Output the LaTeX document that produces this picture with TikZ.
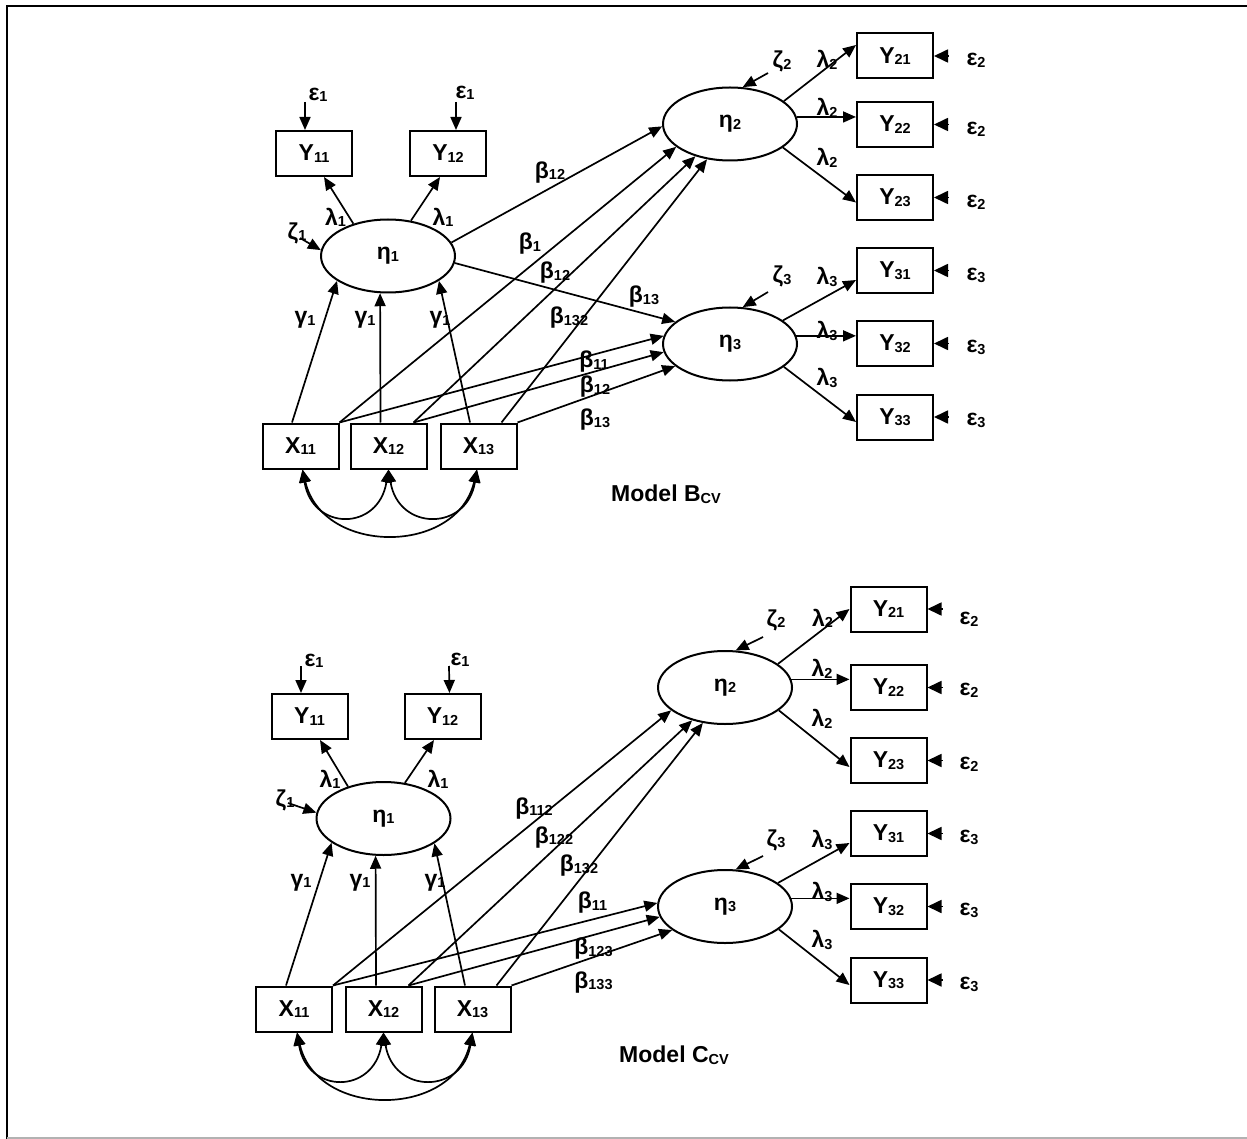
\documentclass[tikz,border=0pt]{standalone}
\usepackage{fontspec}
\setmainfont{Liberation Sans}
\usetikzlibrary{arrows.meta,shapes.geometric}
\newcommand\subtx[1]{\raisebox{-1.5pt}{\fontsize{14.5}{14.5}\selectfont #1}}
\tikzset{
  every node/.style={font=\fontsize{23}{25}\selectfont\bfseries},
  lat/.style={draw, ellipse, line width=2pt, minimum width=134pt, minimum height=73pt, inner sep=0pt},
  obs/.style={draw, rectangle, line width=2pt, minimum width=76pt, minimum height=45pt, inner sep=0pt},
  arr/.style={line width=1.7pt, -{Triangle[length=13pt,width=11pt]}},
  darr/.style={line width=1.7pt, {Triangle[length=13pt,width=11pt]}-{Triangle[length=13pt,width=11pt]}},
  earr/.style={line width=1.7pt, -{Triangle[length=14pt,width=13pt]}},
  lbl/.style={inner sep=0pt},
}
\begin{document}
\begin{tikzpicture}[x=1pt,y=-1pt]
\useasboundingbox (0,0) rectangle (1247,1139);
% frame
\draw[line width=2.3pt] (7,1139) -- (7,6) -- (1247,6);
\draw[line width=1.3pt, gray!60] (7,1138) -- (1247,1138);

% ================= TOP (Model B_CV) =================
\node[obs] (tY11) at (314,153.5) {Y\subtx{11}};
\node[obs] (tY12) at (448,153.5) {Y\subtx{12}};
\node[lat] (teta1) at (388,256) {η\subtx{1}};
\node[obs] (tX11) at (300.5,446) {X\subtx{11}};
\node[obs] (tX12) at (388.5,446) {X\subtx{12}};
\node[obs] (tX13) at (478.5,446) {X\subtx{13}};
\node[lat] (teta2) at (730,124) {η\subtx{2}};
\node[lat] (teta3) at (730,344) {η\subtx{3}};
\node[obs] (tY21) at (895,56) {Y\subtx{21}};
\node[obs] (tY22) at (895,124.5) {Y\subtx{22}};
\node[obs] (tY23) at (895,197.5) {Y\subtx{23}};
\node[obs] (tY31) at (895,270.5) {Y\subtx{31}};
\node[obs] (tY32) at (895,343.5) {Y\subtx{32}};
\node[obs] (tY33) at (895,417) {Y\subtx{33}};

% epsilon 1
\coordinate (te1a) at (305,102);
\coordinate (te1b) at (456,102);
\draw[arr] (te1a) -- ([xshift=-9pt]tY11.north);
\draw[arr] (te1b) -- ([xshift=8pt]tY12.north);
\node[lbl] (lte1a) at (318,95) {ε\subtx{1}};
\node[lbl] (lte1b) at (465,93) {ε\subtx{1}};
% lambda 1
\draw[arr] (teta1.137) -- ([xshift=10pt]tY11.south);
\draw[arr] (teta1.57) -- ([xshift=-8pt]tY12.south);
\node[lbl] (ltl1a) at (335.5,217.5) {λ\subtx{1}};
\node[lbl] (ltl1b) at (443,217.5) {λ\subtx{1}};
% zeta 1
\node[lbl] (ltz1) at (297,233) {ζ\subtx{1}};
\coordinate (tz1) at (300,238);
\draw[arr] (tz1) -- (teta1.175);
% gamma
\draw[arr] ([xshift=-8.5pt]tX11.north) -- (teta1.206);
\draw[arr] ([xshift=-8pt]tX12.north) -- (teta1.258);
\draw[arr] ([xshift=-8.5pt]tX13.north) -- (teta1.334);
\node[lbl] (ltg1) at (305,320) {γ\subtx{1}};
\node[lbl] (ltg2) at (365,320) {γ\subtx{1}};
\node[lbl] (ltg3) at (440,320) {γ\subtx{1}};
% eta1 -> eta2, eta3
\draw[arr] (teta1.12) -- (teta2.182);
\draw[arr] (teta1.354) -- (teta3.158);
\node[lbl] (ltb12a) at (550,172.5) {β\subtx{12}};
\node[lbl] (ltb13a) at (644,297) {β\subtx{13}};
% X -> eta2
\draw[arr] (tX11.north east) -- (teta2.203);
\draw[arr] ([xshift=-14pt]tX12.north east) -- (teta2.223);
\draw[arr] ([xshift=-16pt]tX13.north east) -- (teta2.237);
\node[lbl] (ltb1) at (530,244) {β\subtx{1}};
\node[lbl] (ltb12b) at (555,273) {β\subtx{12}};
\node[lbl] (ltb132) at (569,318) {β\subtx{132}};
% X -> eta3
\draw[arr] (tX11.north east) -- (teta3.173);
\draw[arr] ([xshift=-14pt]tX12.north east) -- (teta3.187);
\draw[arr] (tX13.north east) -- (teta3.202);
\node[lbl] (ltb11) at (594,362) {β\subtx{11}};
\node[lbl] (ltb12c) at (595,387) {β\subtx{12}};
\node[lbl] (ltb13b) at (595,420) {β\subtx{13}};
% eta2 -> Y2x
\draw[arr] (teta2.23) -- ([yshift=11pt]tY21.west);
\draw[arr] (teta2.6) -- (teta2.6 -| tY22.west);
\draw[arr] (teta2.336) -- ([yshift=-5pt]tY23.west);
\node[lbl] (ltl2a) at (827,60) {λ\subtx{2}};
\node[lbl] (ltl2b) at (827,108) {λ\subtx{2}};
\node[lbl] (ltl2c) at (827,158) {λ\subtx{2}};
\node[lbl] (ltz2) at (782,61.5) {ζ\subtx{2}};
\coordinate (tz2) at (768,73);
\draw[arr] (tz2) -- (teta2.71);
% eta3 -> Y3x
\draw[arr] (teta3.24) -- ([yshift=-9.5pt]tY31.west);
\draw[arr] (teta3.7) -- (teta3.7 -| tY32.west);
\draw[arr] (teta3.337) -- ([yshift=-5pt]tY33.west);
\node[lbl] (ltl3a) at (827,277) {λ\subtx{3}};
\node[lbl] (ltl3b) at (827,331) {λ\subtx{3}};
\node[lbl] (ltl3c) at (827,378) {λ\subtx{3}};
\node[lbl] (ltz3) at (782,276.5) {ζ\subtx{3}};
\coordinate (tz3) at (768,292);
\draw[arr] (tz3) -- (teta3.71);
% epsilon 2,3
\foreach \n in {21,22,23,31,32,33} {
  \draw[earr] ([xshift=14pt]tY\n.east) -- (tY\n.east);
}
\node[lbl] (lte21) at (976,60.5) {ε\subtx{2}};
\node[lbl] (lte22) at (976,129.5) {ε\subtx{2}};
\node[lbl] (lte23) at (976,202.5) {ε\subtx{2}};
\node[lbl] (lte31) at (976,275.5) {ε\subtx{3}};
\node[lbl] (lte32) at (976,347.5) {ε\subtx{3}};
\node[lbl] (lte33) at (976,420.5) {ε\subtx{3}};
% covariances
\draw[darr] ([xshift=2pt]tX11.south) .. controls +(10,62) and +(-10,62) .. (tX12.south);
\draw[darr] (tX12.south) .. controls +(10,62) and +(-10,62) .. ([xshift=-1.5pt]tX13.south);
\draw[darr] ([xshift=2pt]tX11.south) .. controls +(20,86) and +(-20,86) .. ([xshift=-1.5pt]tX13.south);
\node[lbl] (tmodel) at (666,494) {Model B\subtx{CV}};

% ================= BOTTOM (Model C_CV) =================
\node[obs] (bY11) at (309.5,716.5) {Y\subtx{11}};
\node[obs] (bY12) at (442.5,716.5) {Y\subtx{12}};
\node[lat] (beta1) at (383.5,818.5) {η\subtx{1}};
\node[obs] (bX11) at (294,1009) {X\subtx{11}};
\node[obs] (bX12) at (383.5,1009) {X\subtx{12}};
\node[obs] (bX13) at (472.5,1009) {X\subtx{13}};
\node[lat] (beta2) at (725,687.5) {η\subtx{2}};
\node[lat] (beta3) at (725,906.5) {η\subtx{3}};
\node[obs] (bY21) at (888.5,609) {Y\subtx{21}};
\node[obs] (bY22) at (888.5,687.5) {Y\subtx{22}};
\node[obs] (bY23) at (888.5,760.5) {Y\subtx{23}};
\node[obs] (bY31) at (888.5,833.5) {Y\subtx{31}};
\node[obs] (bY32) at (888.5,906.5) {Y\subtx{32}};
\node[obs] (bY33) at (888.5,980) {Y\subtx{33}};

\coordinate (be1a) at (301,666);
\coordinate (be1b) at (449,666);
\draw[arr] (be1a) -- ([xshift=-8.5pt]bY11.north);
\draw[arr] (be1b) -- ([xshift=7pt]bY12.north);
\node[lbl] (lbe1a) at (314,661) {ε\subtx{1}};
\node[lbl] (lbe1b) at (460,660) {ε\subtx{1}};
\draw[arr] (beta1.138) -- ([xshift=10.5pt]bY11.south);
\draw[arr] (beta1.59) -- ([xshift=-8.5pt]bY12.south);
\node[lbl] (lbl1a) at (330,779.5) {λ\subtx{1}};
\node[lbl] (lbl1b) at (438,779.5) {λ\subtx{1}};
\node[lbl] (lbz1) at (285,800) {ζ\subtx{1}};
\coordinate (bz1) at (288,803);
\draw[arr] (bz1) -- (beta1.175);
\draw[arr] ([xshift=-8pt]bX11.north) -- (beta1.205);
\draw[arr] ([xshift=-7.5pt]bX12.north) -- (beta1.258);
\draw[arr] ([xshift=-7.5pt]bX13.north) -- (beta1.334);
\node[lbl] (lbg1) at (301,882.5) {γ\subtx{1}};
\node[lbl] (lbg2) at (360,882.5) {γ\subtx{1}};
\node[lbl] (lbg3) at (435,882.5) {γ\subtx{1}};
\draw[arr] (bX11.north east) -- (beta2.203);
\draw[arr] ([xshift=-14pt]bX12.north east) -- (beta2.225);
\draw[arr] ([xshift=-15pt]bX13.north east) -- (beta2.238);
\node[lbl] (lbb112) at (534,808.5) {β\subtx{112}};
\node[lbl] (lbb122) at (554,837.5) {β\subtx{122}};
\node[lbl] (lbb132) at (579,866) {β\subtx{132}};
\draw[arr] (bX11.north east) -- (beta3.177);
\draw[arr] ([xshift=-14pt]bX12.north east) -- (beta3.189);
\draw[arr] (bX13.north east) -- (beta3.204);
\node[lbl] (lbb11) at (592.5,903) {β\subtx{11}};
\node[lbl] (lbb123) at (593.5,949) {β\subtx{123}};
\node[lbl] (lbb133) at (593.5,982.5) {β\subtx{133}};
\draw[arr] (beta2.24) -- (bY21.west);
\draw[arr] (beta2.7) -- (beta2.7 -| bY22.west);
\draw[arr] (beta2.337) -- ([yshift=-6.5pt]bY23.west);
\node[lbl] (lbl2a) at (822.5,618.5) {λ\subtx{2}};
\node[lbl] (lbl2b) at (822,669) {λ\subtx{2}};
\node[lbl] (lbl2c) at (822,719) {λ\subtx{2}};
\node[lbl] (lbz2) at (776,620) {ζ\subtx{2}};
\coordinate (bz2) at (763,637);
\draw[arr] (bz2) -- (beta2.74);
\draw[arr] (beta3.24) -- ([yshift=-9.5pt]bY31.west);
\draw[arr] (beta3.7) -- (beta3.7 -| bY32.west);
\draw[arr] (beta3.337) -- ([yshift=-5pt]bY33.west);
\node[lbl] (lbl3a) at (822,840) {λ\subtx{3}};
\node[lbl] (lbl3b) at (822,892) {λ\subtx{3}};
\node[lbl] (lbl3c) at (822,940) {λ\subtx{3}};
\node[lbl] (lbz3) at (776,840) {ζ\subtx{3}};
\coordinate (bz3) at (763,856);
\draw[arr] (bz3) -- (beta3.74);
\foreach \n in {21,22,23,31,32,33} {
  \draw[earr] ([xshift=15pt]bY\n.east) -- (bY\n.east);
}
\node[lbl] (lbe21) at (969,619.5) {ε\subtx{2}};
\node[lbl] (lbe22) at (969,690.5) {ε\subtx{2}};
\node[lbl] (lbe23) at (969,764.5) {ε\subtx{2}};
\node[lbl] (lbe31) at (969,837.5) {ε\subtx{3}};
\node[lbl] (lbe32) at (969,910.5) {ε\subtx{3}};
\node[lbl] (lbe33) at (969,984.5) {ε\subtx{3}};
\draw[darr] ([xshift=3pt]bX11.south) .. controls +(10,62) and +(-10,62) .. (bX12.south);
\draw[darr] (bX12.south) .. controls +(10,62) and +(-10,62) .. (bX13.south);
\draw[darr] ([xshift=3pt]bX11.south) .. controls +(20,86) and +(-20,86) .. (bX13.south);
\node[lbl] (bmodel) at (674,1055) {Model C\subtx{CV}};
\end{tikzpicture}
\end{document}
